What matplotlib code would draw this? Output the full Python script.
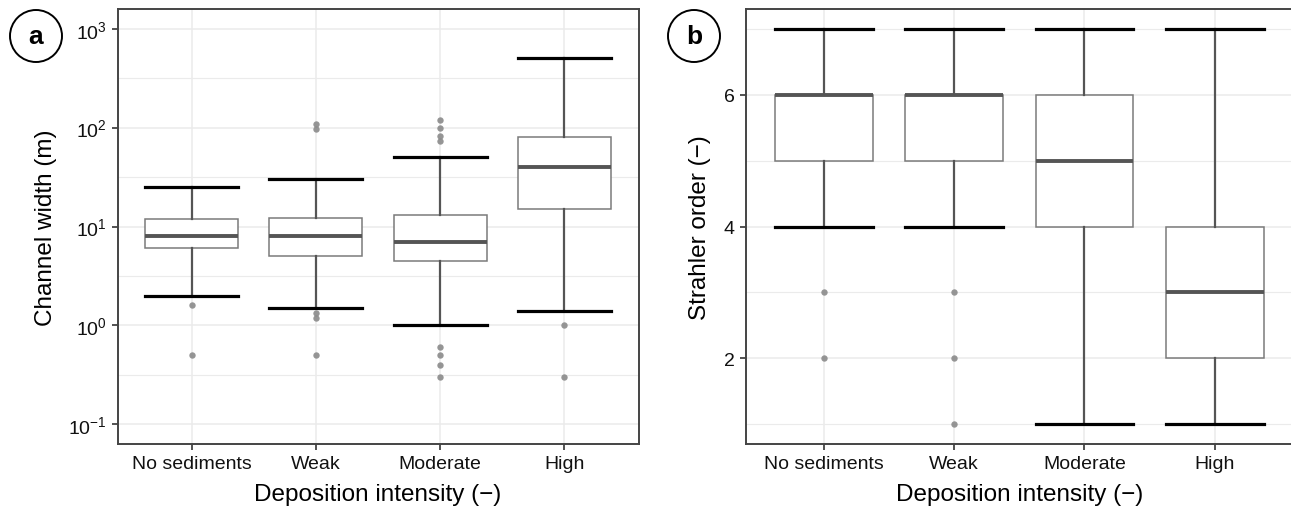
import matplotlib
matplotlib.use("Agg")
import matplotlib.pyplot as plt
from matplotlib.patches import Ellipse
import numpy as np

plt.rcParams['font.family'] = ['Liberation Sans', 'DejaVu Sans']
plt.rcParams['mathtext.fontset'] = 'custom'
plt.rcParams['mathtext.rm'] = 'Liberation Sans'
plt.rcParams['mathtext.it'] = 'Liberation Sans'

categories = ["No sediments", "Weak", "Moderate", "High"]

# Panel a: channel width (m)
width_q1 = [6.0, 5.0, 4.5, 15.0]
width_med = [8.0, 8.0, 7.0, 40.0]
width_q3 = [12.0, 12.2, 13.2, 80.0]
width_lo = [2.0, 1.5, 1.0, 1.4]
width_hi = [25.0, 30.0, 50.0, 510.0]
width_fliers = [
    [1.6, 0.5],
    [110.0, 96.0, 1.33, 1.2, 0.5],
    [119.0, 100.0, 82.0, 74.0, 0.6, 0.5, 0.4, 0.3],
    [1.0, 0.3],
]

# Panel b: Strahler order
order_q1 = [5, 5, 4, 2]
order_med = [6, 6, 5, 3]
order_q3 = [6, 6, 6, 4]
order_lo = [4, 4, 1, 1]
order_hi = [7, 7, 7, 7]
order_fliers = [[3, 2], [3, 2, 1], [], []]

W, H = 1291, 510
fig = plt.figure(figsize=(W / 100, H / 100), dpi=100)

def fx(px):
    return px / W

def fy(py):
    return 1 - py / H

ax_a = fig.add_axes([fx(117.5), fy(445), fx(638.5) - fx(117.5), fy(10) - fy(445)])
ax_b = fig.add_axes([fx(745.5), fy(445), fx(1293) - fx(745.5), fy(10) - fy(445)])

box_color = '#7a7a7a'
whisk_color = '#555555'
med_color = '#555555'
flier_color = '#8a8a8a'
frame_color = '#444444'
grid_color = '#ebebeb'

def make_stats(q1, med, q3, lo, hi, fl):
    stats = []
    for i in range(len(q1)):
        stats.append(dict(q1=q1[i], med=med[i], q3=q3[i], whislo=lo[i],
                          whishi=hi[i], fliers=fl[i], label=categories[i]))
    return stats

def draw(ax, stats):
    pos = np.arange(1, len(stats) + 1)
    ax.bxp(stats, positions=pos, widths=0.75, capwidths=0.75, showcaps=True,
           showfliers=True, patch_artist=True,
           boxprops=dict(facecolor='white', edgecolor=box_color, linewidth=1.1),
           whiskerprops=dict(color=whisk_color, linewidth=1.6),
           capprops=dict(color='black', linewidth=2.3),
           medianprops=dict(color=med_color, linewidth=2.8, solid_capstyle='butt'),
           flierprops=dict(marker='o', markersize=4.6, markerfacecolor=flier_color,
                           markeredgecolor='none', alpha=0.9))
    ax.set_xlim(0.4, len(stats) + 0.6)
    ax.set_xticks(pos)
    ax.set_xticklabels(categories)
    ax.set_axisbelow(True)
    ax.grid(True, which='major', color=grid_color, linewidth=1.1)
    ax.grid(True, which='minor', axis='y', color=grid_color, linewidth=0.8)
    for s in ax.spines.values():
        s.set_color(frame_color)
        s.set_linewidth(1.4)
    ax.tick_params(which='major', length=4, width=1.3, color=frame_color,
                   labelsize=14, labelcolor='#111111', pad=4)
    ax.tick_params(which='minor', length=0)
    ax.set_xlabel("Deposition intensity (\u2212)", fontsize=17.5, labelpad=8)

# Panel a
ax_a.set_yscale('log')
draw(ax_a, make_stats(width_q1, width_med, width_q3, width_lo, width_hi, width_fliers))
ax_a.set_yticks([0.1, 1, 10, 100, 1000])
ax_a.set_yticklabels([r'$10^{-1}$', r'$10^{0}$', r'$10^{1}$', r'$10^{2}$', r'$10^{3}$'])
ax_a.set_yticks([10 ** (k + 0.5) for k in range(-2, 4)], minor=True)
ax_a.set_yticklabels([], minor=True)
ax_a.set_ylim(10 ** -1.2, 10 ** 3.2)
ax_a.set_ylabel("Channel width (m)", fontsize=17.5, labelpad=8)

# Panel b
draw(ax_b, make_stats(order_q1, order_med, order_q3, order_lo, order_hi, order_fliers))
ax_b.set_ylim(0.7, 7.3)
ax_b.set_yticks([2, 4, 6])
ax_b.set_yticks([1, 3, 5, 7], minor=True)
ax_b.set_ylabel("Strahler order (\u2212)", fontsize=17.5, labelpad=9)

# Panel letters
for cx, cy, letter in [(36, 37, 'a'), (694, 37, 'b')]:
    e = Ellipse((fx(cx), fy(cy)), width=52 / W, height=52 / H, transform=fig.transFigure,
                facecolor='white', edgecolor='black', linewidth=1.4)
    fig.add_artist(e)
    fig.text(fx(cx), fy(cy), letter, ha='center', va='center', fontsize=19,
             fontweight='bold', color='black')

fig.savefig("out.png", dpi=100)
